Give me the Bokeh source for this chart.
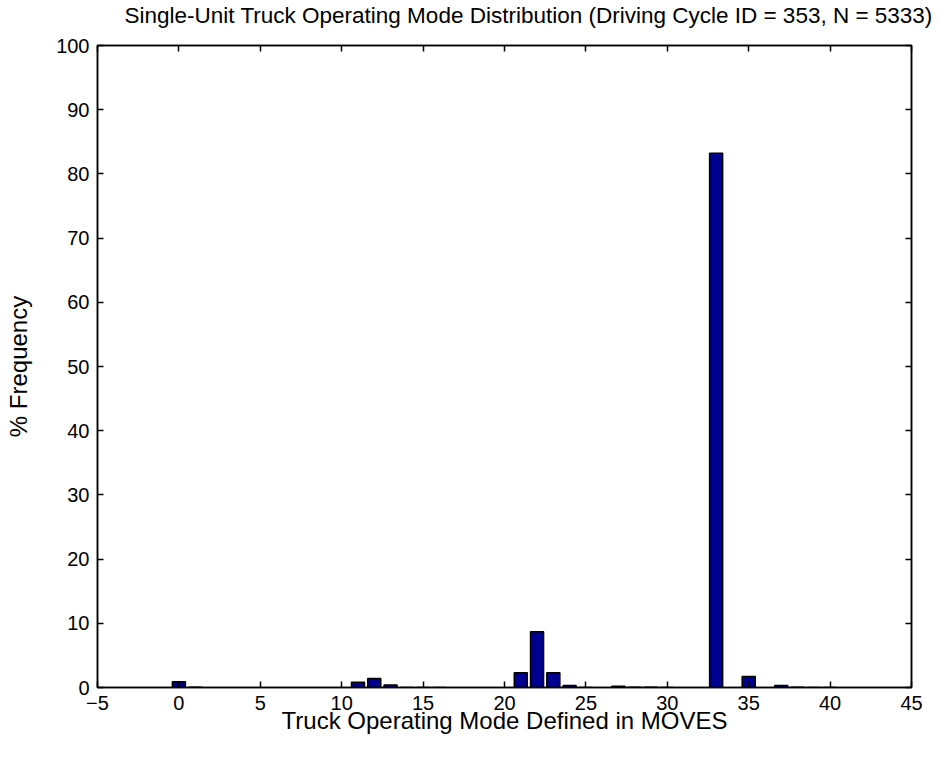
from bokeh.plotting import figure
from bokeh.models import LinearAxis, Range1d, FixedTicker
from bokeh.embed import file_html
from bokeh.resources import INLINE

# Operating mode bins and % frequency
modes = [0, 1, 11, 12, 13, 14, 15, 16, 21, 22, 23, 24, 25, 27, 28, 29, 30, 33, 35, 37, 38, 39, 40]
pct = [0.9, 0.05, 0.8, 1.4, 0.4, 0.0, 0.0, 0.0, 2.3, 8.7, 2.3, 0.3, 0.0, 0.2, 0.05, 0.05, 0.0, 83.2, 1.7, 0.3, 0.05, 0.0, 0.0]

x_ticks = [-5, 0, 5, 10, 15, 20, 25, 30, 35, 40, 45]
y_ticks = [0, 10, 20, 30, 40, 50, 60, 70, 80, 90, 100]

title_text = "Single-Unit Truck Operating Mode Distribution (Driving Cycle ID = 353, N = 5333)"
x_label = "Truck Operating Mode Defined in MOVES"
y_label = "% Frequency"

FONT = "Liberation Sans"
FS_TICK = "20px"
FS_LABEL = "24px"
FS_TITLE = "22.5px"

p = figure(frame_width=814, frame_height=642,
           x_range=Range1d(-5, 45), y_range=Range1d(0, 100),
           output_backend="svg", toolbar_location=None,
           min_border_left=97, min_border_right=30,
           min_border_top=45, min_border_bottom=68)

p.vbar(x=modes, top=pct, width=0.8, bottom=0,
       fill_color="#000090", line_color="black", line_width=1.5)

p.xgrid.visible = False
p.ygrid.visible = False
p.outline_line_color = "black"
p.outline_line_width = 1.5
p.background_fill_color = "white"
p.border_fill_color = "white"

p.title.text = title_text
p.title.align = "left"
p.title.offset = 27
p.title.text_font = FONT
p.title.text_font_size = FS_TITLE
p.title.text_font_style = "normal"
p.title.text_color = "black"
p.title.standoff = 0


def style(ax, ticks, show_labels):
    ax.ticker = FixedTicker(ticks=ticks)
    ax.major_tick_in = 6
    ax.major_tick_out = 0
    ax.minor_tick_line_color = None
    ax.major_tick_line_color = "black"
    ax.major_tick_line_width = 1.5
    ax.axis_line_color = "black"
    ax.axis_line_width = 1.5
    if show_labels:
        ax.major_label_text_font = FONT
        ax.major_label_text_font_size = FS_TICK
        ax.major_label_text_color = "black"
        ax.axis_label_text_font = FONT
        ax.axis_label_text_font_size = FS_LABEL
        ax.axis_label_text_font_style = "normal"
        ax.axis_label_text_color = "black"
    else:
        ax.major_label_text_font_size = "0px"
        ax.major_label_text_color = None
        ax.major_label_standoff = 0


style(p.xaxis[0], x_ticks, True)
style(p.yaxis[0], y_ticks, True)
p.xaxis[0].axis_label = x_label
p.yaxis[0].axis_label = y_label
p.xaxis[0].major_label_standoff = 8
p.xaxis[0].axis_label_standoff = -6
p.yaxis[0].major_label_standoff = 8
p.yaxis[0].axis_label_standoff = 21

# top axis: ticks only; a blank label reserves the gap between title and frame
top_ax = LinearAxis()
style(top_ax, x_ticks, False)
top_ax.axis_label = "\u00a0"
top_ax.axis_label_text_font_size = "10px"
top_ax.axis_label_text_color = None
top_ax.axis_label_standoff = 4
p.add_layout(top_ax, "above")
right_ax = LinearAxis()
style(right_ax, y_ticks, False)
p.add_layout(right_ax, "right")

open("out.html", "w").write(file_html(p, INLINE))
